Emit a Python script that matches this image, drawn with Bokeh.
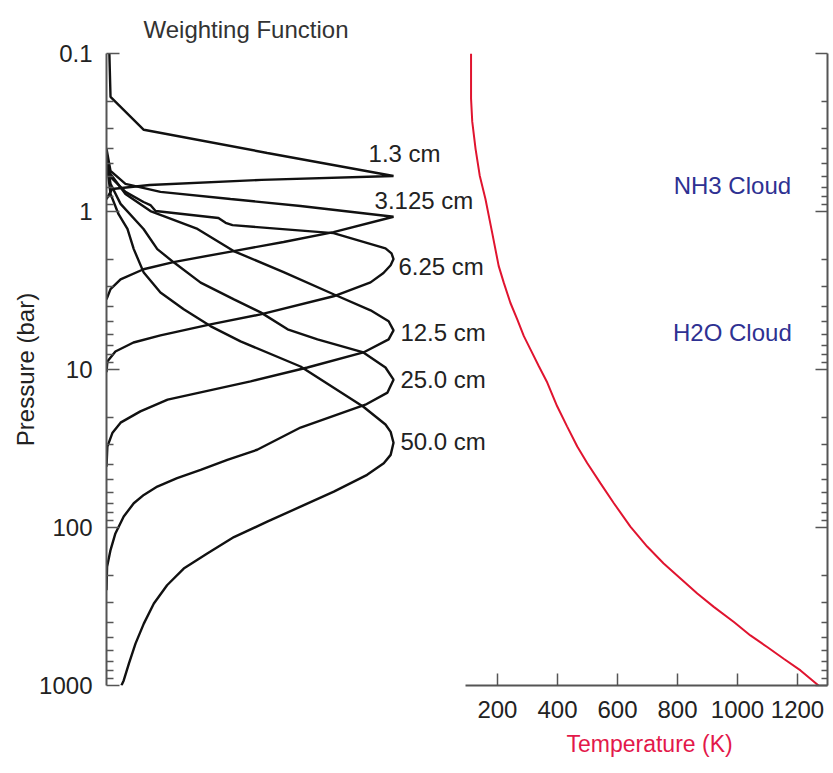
from bokeh.plotting import figure
from bokeh.models import Range1d, LogAxis, FixedTicker, CustomJSTickFormatter, Title
from bokeh.core.properties import value
from bokeh.embed import file_html
from bokeh.resources import INLINE

# ---------------- data ----------------
pressure_ticks = [0.1, 1, 10, 100, 1000]
pressure_minor = [0.2, 0.3, 0.4, 0.5, 0.6, 0.7, 0.8, 0.9,
                  2, 3, 4, 5, 6, 7, 8, 9,
                  20, 30, 40, 50, 60, 70, 80, 90,
                  200, 300, 400, 500, 600, 700, 800, 900]
temp_ticks = [200, 400, 600, 800, 1000, 1200]

wf_labels = ["1.3 cm", "3.125 cm", "6.25 cm", "12.5 cm", "25.0 cm", "50.0 cm"]

w_1p3 = [0.01, 0.014, 0.13, 0.56, 1.0, 0.54, 0.15, 0.02, 0.0]
p_1p3 = [0.1, 0.188, 0.304, 0.426, 0.596, 0.631, 0.679, 0.72, 0.834]

w_3p125 = [0.0, 0.014, 0.066, 0.188, 0.432, 0.676, 1.0, 0.791, 0.617, 0.443, 0.233, 0.129, 0.049, 0.014, 0.0]
p_3p125 = [0.401, 0.553, 0.668, 0.751, 0.834, 0.923, 1.08, 1.35, 1.56, 1.78, 2.09, 2.32, 2.69, 3.10, 3.60]

w_6p25 = [0.0, 0.014, 0.066, 0.129, 0.153, 0.171, 0.39, 0.415, 0.439, 0.791, 0.972, 0.993, 1.0,
          0.99, 0.965, 0.92, 0.791, 0.537, 0.362, 0.188, 0.094, 0.031, 0.003, 0.0]
p_6p25 = [0.431, 0.604, 0.751, 0.871, 0.91, 0.993, 1.10, 1.18, 1.22, 1.37, 1.71, 1.84, 2.0,
          2.19, 2.45, 2.81, 3.44, 4.48, 5.18, 6.08, 6.75, 7.69, 8.89, 10.4]

w_12p5 = [0.0, 0.014, 0.066, 0.153, 0.317, 0.443, 0.617, 0.791, 0.92, 0.983, 1.0,
          0.983, 0.895, 0.70, 0.502, 0.213, 0.118, 0.049, 0.021, 0.003, 0.0]
p_12p5 = [0.451, 0.578, 0.774, 0.993, 1.29, 1.78, 2.42, 3.34, 4.22, 4.95, 5.65,
          6.45, 7.80, 9.71, 11.9, 15.5, 18.4, 21.7, 25.1, 30.8, 41.3]

w_25 = [0.0, 0.014, 0.049, 0.129, 0.177, 0.233, 0.328, 0.444, 0.537, 0.631, 0.735, 0.895, 0.972, 1.0,
        0.979, 0.902, 0.676, 0.525, 0.421, 0.328, 0.246, 0.177, 0.130, 0.095, 0.060, 0.031, 0.014,
        0.002, 0.0]
p_25 = [0.464, 0.668, 0.895, 1.29, 1.73, 2.09, 2.82, 3.60, 4.35, 5.57, 6.45, 7.80, 9.71, 11.6,
        14.0, 16.7, 23.3, 32.2, 37.3, 43.2, 48.7, 55.1, 62.2, 70.2, 85.3, 109, 139,
        177, 249]

w_50 = [0.0, 0.014, 0.042, 0.073, 0.095, 0.129, 0.188, 0.269, 0.362, 0.467, 0.676, 0.895, 0.972,
        0.99, 1.0, 0.99, 0.966, 0.908, 0.792, 0.676, 0.560, 0.444, 0.351, 0.269, 0.211, 0.165,
        0.130, 0.101, 0.078, 0.060, 0.052]
p_50 = [0.478, 0.774, 1.04, 1.29, 1.73, 2.42, 3.26, 4.16, 5.31, 6.64, 9.57, 17.2, 22.3,
        24.8, 29.1, 34.7, 39.2, 46.4, 59.3, 73.8, 91.9, 115, 146, 182, 232, 303,
        406, 543, 728, 929, 1000]

label_w = [0.913, 0.934, 1.017, 1.024, 1.024, 1.024]
label_p = [0.431, 0.857, 2.22, 5.82, 11.6, 28.6]

temp_K = [112, 112, 116, 127, 141, 160, 182, 204, 221, 243, 266, 288, 310, 338, 366, 399,
          432, 466, 499, 543, 588, 643, 699, 754, 810, 866, 921, 988, 1043, 1099, 1154,
          1210, 1270]
temp_p = [0.1, 0.193, 0.27, 0.401, 0.593, 0.834, 1.35, 2.21, 2.82, 3.78, 4.82, 6.15, 7.46,
          9.53, 12.1, 17.1, 22.9, 30.7, 39.1, 52.4, 70.2, 98.8, 132, 169, 210, 262, 318,
          396, 482, 571, 677, 803, 1000]

cloud_names = ["NH3 Cloud", "H2O Cloud"]
cloud_T = [983, 983]
cloud_p = [0.689, 5.82]

# ---------------- figure ----------------
FONT = "Liberation Sans"
AXIS_GRAY = "#555555"
RED = "#e0142f"

p = figure(width=833, height=773, output_backend="svg", toolbar_location=None,
           x_range=Range1d(-1103, 1300), y_range=Range1d(1000, 0.1),
           y_axis_type="log",
           min_border_left=106, min_border_right=6, min_border_top=53, min_border_bottom=88)
p.extra_x_ranges = {"w": Range1d(0, 2.512)}
p.grid.visible = False
p.outline_line_color = None
p.background_fill_color = "white"

p.title.text = "Weighting Function"
p.title.text_font = FONT
p.title.text_font_size = "24px"
p.title.text_font_style = "normal"
p.title.text_color = "#333333"
p.title.align = "left"
p.title.offset = 37
p.title.standoff = 22

# bottom temperature axis
xa = p.xaxis[0]
xa.ticker = FixedTicker(ticks=temp_ticks)
xa.bounds = (93, 1300)
xa.major_label_text_font = FONT
xa.major_label_text_font_size = "24px"
xa.major_label_text_color = "#222222"
xa.major_label_standoff = 15
xa.major_tick_in = 12
xa.major_tick_out = 0
xa.minor_tick_in = 0
xa.minor_tick_out = 0
xa.axis_line_color = AXIS_GRAY
xa.axis_line_width = 2
xa.major_tick_line_color = AXIS_GRAY
xa.major_tick_line_width = 1.5

xlabel = Title(text="Temperature (K)", align="left", offset=460, standoff=16,
               text_font=FONT, text_font_size="23px", text_font_style="normal",
               text_color="#e3184a")
p.add_layout(xlabel, "below")

# left pressure axis
ya = p.yaxis[0]
ya.ticker = FixedTicker(ticks=pressure_ticks, minor_ticks=pressure_minor)
ya.formatter = CustomJSTickFormatter(code="return String(tick);")
ya.axis_label = "Pressure (bar)"
ya.axis_label_text_font = FONT
ya.axis_label_text_font_size = "24px"
ya.axis_label_text_font_style = "normal"
ya.axis_label_text_color = "#222222"
ya.axis_label_standoff = -3
ya.major_label_text_font = FONT
ya.major_label_text_font_size = "24px"
ya.major_label_text_color = "#222222"
ya.major_label_standoff = 14
ya.major_tick_in = 13
ya.major_tick_out = 0
ya.minor_tick_in = 7
ya.minor_tick_out = 0
ya.axis_line_color = AXIS_GRAY
ya.axis_line_width = 2
ya.major_tick_line_color = AXIS_GRAY
ya.major_tick_line_width = 1.5
ya.minor_tick_line_color = AXIS_GRAY
ya.minor_tick_line_width = 1.5

# right pressure axis (ticks only, no labels)
ra = LogAxis(ticker=FixedTicker(ticks=pressure_ticks, minor_ticks=pressure_minor),
             formatter=CustomJSTickFormatter(code="return '';"),
             major_label_standoff=0,
             major_tick_in=12, major_tick_out=0, minor_tick_in=6, minor_tick_out=0,
             axis_line_color=AXIS_GRAY, axis_line_width=2,
             major_tick_line_color=AXIS_GRAY, major_tick_line_width=1.5,
             minor_tick_line_color=AXIS_GRAY, minor_tick_line_width=1.5)
p.add_layout(ra, "right")

# weighting functions
for ws, ps in [(w_1p3, p_1p3), (w_3p125, p_3p125), (w_6p25, p_6p25),
               (w_12p5, p_12p5), (w_25, p_25), (w_50, p_50)]:
    p.line(ws, ps, x_range_name="w", line_color="#111111", line_width=2.4)

p.text(x=label_w, y=label_p, text=wf_labels, x_range_name="w",
       text_font=value(FONT), text_font_size="24px", text_color="#222222",
       text_baseline="middle", text_align="left")

# temperature profile
p.line(temp_K, temp_p, line_color=RED, line_width=2)

p.text(x=cloud_T, y=cloud_p, text=cloud_names,
       text_font=value(FONT), text_font_size="24px", text_color="#2e3192",
       text_baseline="middle", text_align="center")

open("out.html", "w").write(file_html(p, INLINE))
